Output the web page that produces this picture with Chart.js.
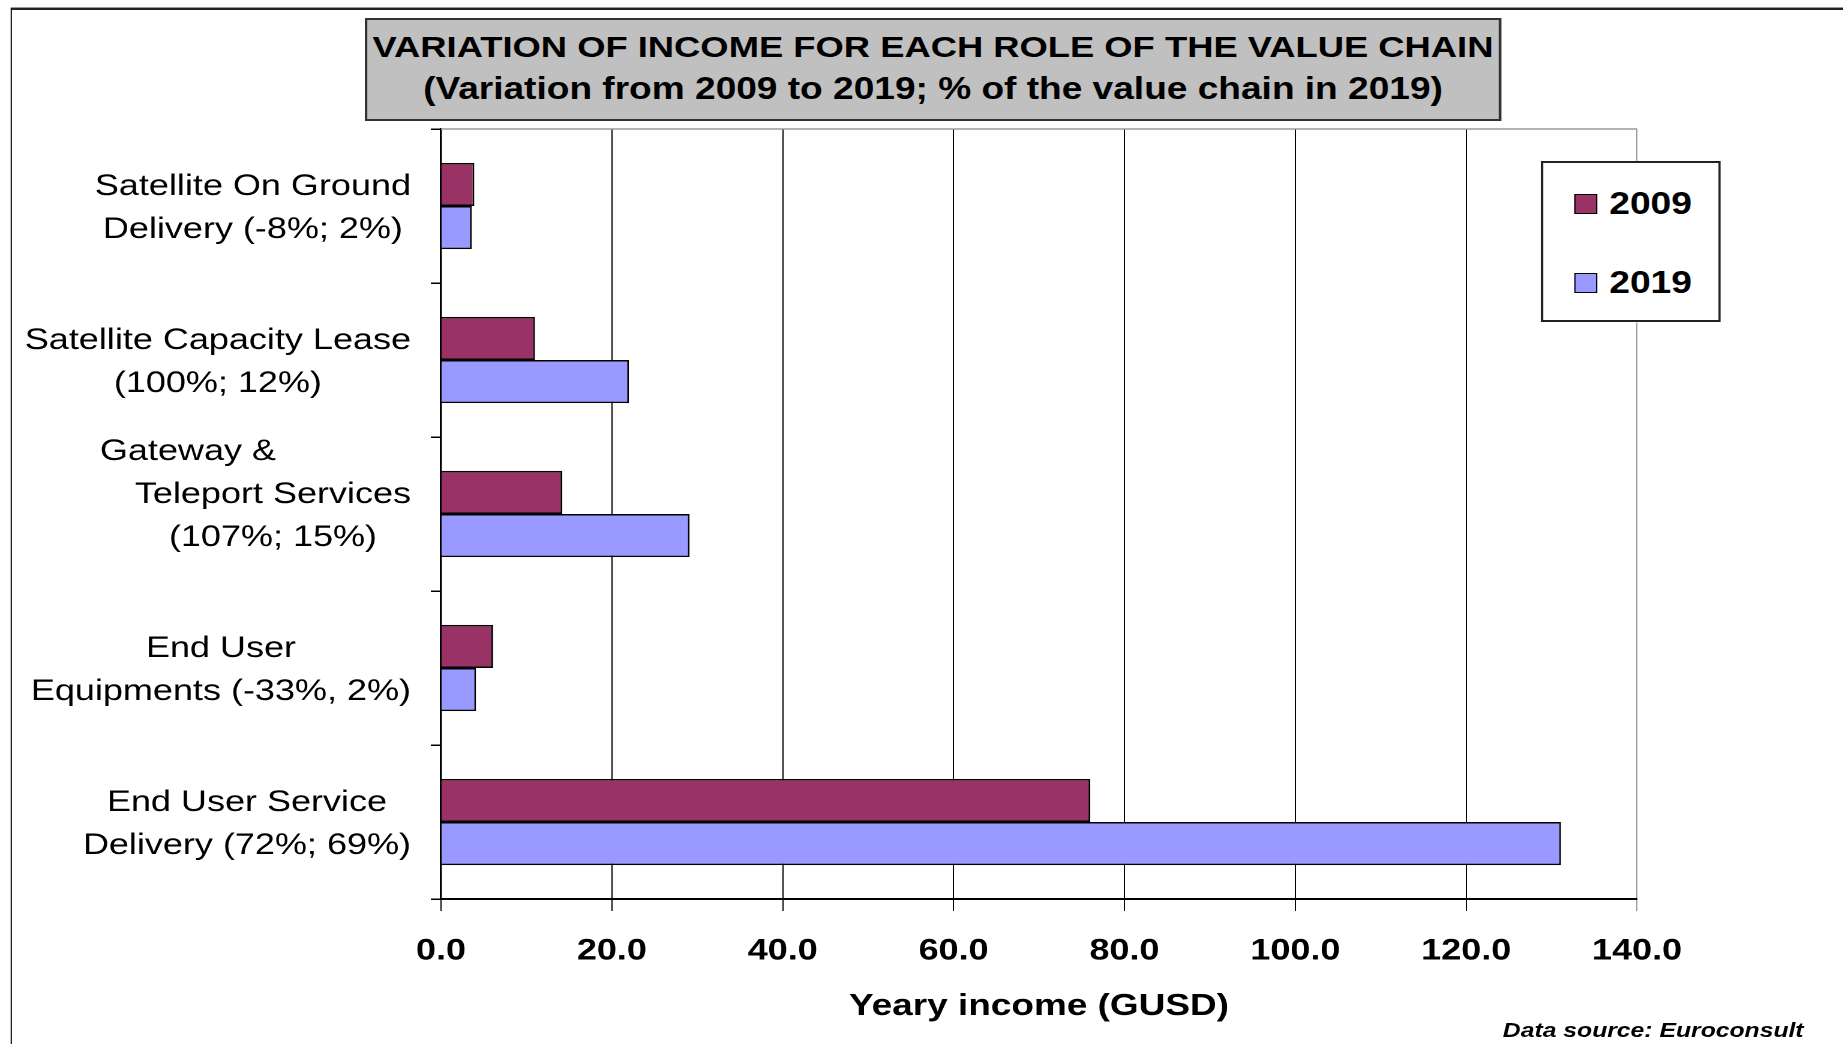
<!DOCTYPE html>
<html>
<head>
<meta charset="utf-8">
<script src="https://cdn.jsdelivr.net/npm/chart.js@4/dist/chart.umd.min.js"></script>
<style>
    html, body { margin: 0; padding: 0; background: #fff; overflow: hidden; }
    /* the original picture is stretched sideways, so the whole page is drawn narrow and widened */
    #wrap {
        position: absolute; left: 0; top: 0;
        width: 1536px; height: 1044px;
        transform: scaleX(1.2); transform-origin: 0 0;
        font-family: "Liberation Sans", Arial, sans-serif;
    }
    #frame {
        position: absolute; left: 8.6px; top: 8px; width: 1600px; height: 1100px;
        border-left: 1.7px solid #222; border-top: 2px solid #222;
        box-shadow: 0 -1px 0 #999;
    }
    #chart { position: absolute; left: 0; top: 0; }
    #title {
        position: absolute; left: 304px; top: 18px; width: 947px; height: 103px;
        box-sizing: border-box; background: #c0c0c0; border: 2px solid #333;
        padding-top: 6px; text-align: center;
        font-weight: bold; color: #000;
    }
    #title div { height: 42px; line-height: 42px; white-space: nowrap; }
    #title .l1 { font-size: 30.3px; }
    #title .l2 { font-size: 30.9px; }
    #legend {
        position: absolute; left: 1284px; top: 161px; width: 150px; height: 161px;
        box-sizing: border-box; background: #fff; border: 2px solid #222;
    }
    .item { position: absolute; left: 26px; height: 40px; display: flex; align-items: center; }
    .box { width: 17px; height: 18px; border: 1px solid #000; margin-right: 10px; }
    .item span { font-weight: bold; font-size: 31px; }
    #source {
        position: absolute; right: 33px; top: 1018px;
        font-weight: bold; font-style: italic; font-size: 20.6px;
    }
</style>
</head>
<body>
<div id="wrap">
    <div id="frame"></div>
    <canvas id="chart" width="1536" height="1044"></canvas>
    <div id="title">
        <div class="l1">VARIATION OF INCOME FOR EACH ROLE OF THE VALUE CHAIN</div>
        <div class="l2">(Variation from 2009 to 2019; % of the value chain in 2019)</div>
    </div>
    <div id="legend"></div>
    <div id="source">Data source: Euroconsult</div>
</div>
<script>
const categories = [
    ["Satellite On Ground", "Delivery (-8%; 2%)"],
    ["Satellite Capacity Lease", "(100%; 12%)"],
    ["Gateway &                 ", "Teleport Services", "(107%; 15%)", ""],
    ["End User", "Equipments (-33%, 2%)"],
    ["End User Service", "Delivery (72%; 69%)"],
];
const seriesNames = ["2009", "2019"];
const income2009 = [3.9, 11.0, 14.2, 6.1, 76.0];
const income2019 = [3.6, 22.0, 29.1, 4.1, 131.1];
const xMin = 0;
const xMax = 140;
const xStep = 20;
const axisTitle = "Yeary income (GUSD)";

// labels of the categories: each block is right aligned, its lines centred
const catLabels = {
    id: "catLabels",
    afterDraw(chart) {
        const ctx = chart.ctx;
        const y = chart.scales.y;
        ctx.save();
        ctx.font = '30px "Liberation Sans", Arial, sans-serif';
        ctx.fillStyle = "#000";
        ctx.textAlign = "center";
        ctx.textBaseline = "middle";
        const right = y.right - 25;
        chart.data.labels.forEach((lines, i) => {
            const cy = y.getPixelForValue(i) + 2;
            const w = Math.max(...lines.map(l => ctx.measureText(l.trimEnd()).width));
            lines.forEach((l, k) => {
                ctx.fillText(l, right - w / 2, cy + (k - (lines.length - 1) / 2) * 43);
            });
        });
        ctx.restore();
    }
};

// grey top edge of the plot area
const plotTop = {
    id: "plotTop",
    beforeDatasetsDraw(chart) {
        const { ctx, chartArea } = chart;
        ctx.save();
        ctx.strokeStyle = "#999";
        ctx.lineWidth = 1.5;
        ctx.beginPath();
        ctx.moveTo(chartArea.left, chartArea.top);
        ctx.lineTo(chartArea.right, chartArea.top);
        ctx.stroke();
        ctx.restore();
    }
};

const chart = new Chart(document.getElementById("chart"), {
    type: "bar",
    data: {
        labels: categories,
        datasets: [
            {
                label: seriesNames[0],
                data: income2009,
                backgroundColor: "#993366",
                borderColor: "#000",
                borderWidth: 1.5,
            },
            {
                label: seriesNames[1],
                data: income2019,
                backgroundColor: "#9999ff",
                borderColor: "#000",
                borderWidth: 1.5,
            },
        ],
    },
    options: {
        indexAxis: "y",
        responsive: false,
        animation: false,
        devicePixelRatio: 2,
        layout: { padding: { left: 10, top: 129, right: 171.8, bottom: 0 } },
        datasets: { bar: { categoryPercentage: 0.56, barPercentage: 1.0 } },
        plugins: {
            legend: { display: false },
            title: { display: false },
            tooltip: { enabled: false },
        },
        scales: {
            x: {
                min: xMin,
                max: xMax,
                afterFit: (s) => { s.height = 145; },
                ticks: {
                    stepSize: xStep,
                    padding: 22,
                    color: "#000",
                    font: { family: '"Liberation Sans", Arial, sans-serif', size: 30, weight: "bold" },
                    callback: (v) => Number(v).toFixed(1),
                },
                grid: {
                    color: (c) => (c.tick && c.tick.value === xMax ? "#999" : "#000"),
                    lineWidth: 1,
                    tickLength: 12,
                },
                border: { color: "#000", width: 2 },
                title: {
                    display: true,
                    text: axisTitle,
                    color: "#000",
                    padding: { top: 0, bottom: 19 },
                    font: { family: '"Liberation Sans", Arial, sans-serif', size: 30.8, weight: "bold" },
                },
            },
            y: {
                afterFit: (s) => { s.width = 357.5; },
                ticks: { display: false },
                grid: {
                    drawOnChartArea: false,
                    drawTicks: true,
                    tickLength: 8.5,
                    color: "#000",
                    lineWidth: 1.5,
                },
                border: { color: "#000", width: 1.7 },
            },
        },
    },
    plugins: [catLabels, plotTop],
});

// legend box built from the datasets
const legend = document.getElementById("legend");
chart.data.datasets.forEach((ds, i) => {
    const item = document.createElement("div");
    item.className = "item";
    item.style.top = (21 + i * 79) + "px";
    item.innerHTML = `<div class="box" style="background:${ds.backgroundColor}"></div><span>${ds.label}</span>`;
    legend.appendChild(item);
});
</script>
</body>
</html>
